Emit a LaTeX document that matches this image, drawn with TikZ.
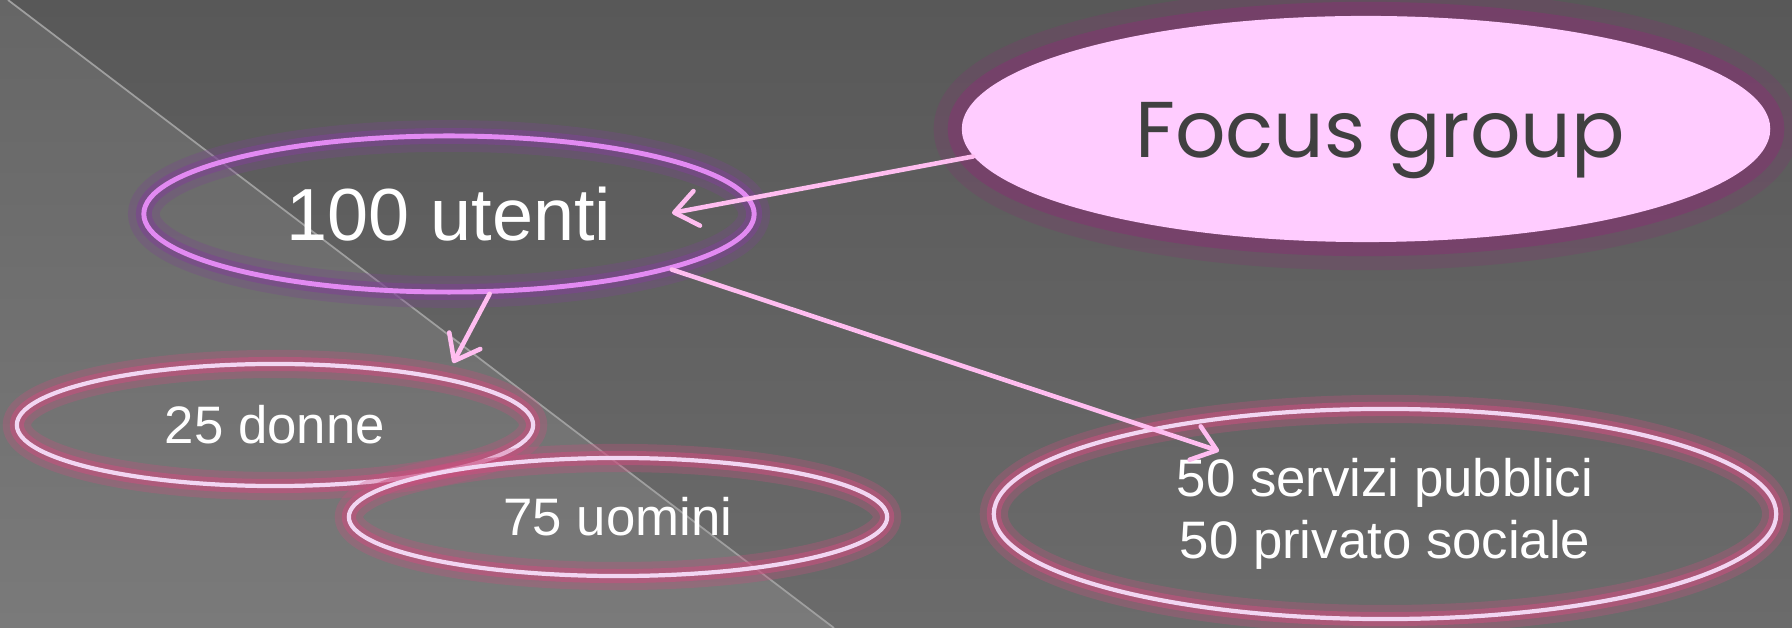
\documentclass[tikz,border=0pt]{standalone}
\usepackage{fontspec}
\setmainfont{Liberation Sans}
\newfontfamily\gothic{Poppins}
\usetikzlibrary{arrows.meta,shapes.geometric}

\definecolor{bgtop}{HTML}{585858}
\definecolor{bgbot}{HTML}{6B6B6B}
\definecolor{lighttop}{HTML}{666666}
\definecolor{lightbot}{HTML}{7A7A7A}
\definecolor{focusfill}{HTML}{FFCCFF}
\definecolor{focusglow}{HTML}{7E3A6E}
\definecolor{focustext}{HTML}{404040}
\definecolor{violetring}{HTML}{E28AF2}
\definecolor{violetglow}{HTML}{7C4590}
\definecolor{pinkring}{HTML}{F2D6F2}
\definecolor{pinkglow}{HTML}{C9507F}
\definecolor{arrowpink}{HTML}{FFBDF0}

\tikzset{
  topic/.style={ellipse, fill=focusfill, text=focustext,
    font=\gothic\fontsize{22.5}{27}\selectfont,
    text height=16pt, text depth=0pt,
    preaction={draw=focusglow, line width=16pt, opacity=.3},
    preaction={draw=focusglow, line width=8pt, opacity=.65}},
  mainring/.style={ellipse, draw=violetring, line width=1.4pt, text=white,
    font=\fontsize{21}{25}\selectfont,
    preaction={draw=violetglow, line width=9pt, opacity=.3},
    preaction={draw=violetglow, line width=4.5pt, opacity=.6}},
  subring/.style={ellipse, draw=pinkring, line width=1.2pt, text=white,
    font=\fontsize{15}{17.5}\selectfont, align=center,
    preaction={draw=pinkglow, line width=8pt, opacity=.3},
    preaction={draw=pinkglow, line width=4pt, opacity=.55}},
  link/.style={draw=arrowpink, line width=1.3pt, line cap=round,
    -{Straight Barb[length=6.5pt,width=10pt,round]}}
}

\begin{document}
\begin{tikzpicture}[x=0.01cm, y=0.01cm]
\useasboundingbox (0,0) rectangle (1792,-628);
% background
\shade[top color=bgtop, bottom color=bgbot] (0,0) rectangle (1792,-628);
\shade[top color=lighttop, bottom color=lightbot] (0,0) -- (8,0) -- (834,-628) -- (0,-628) -- cycle;
\draw[line width=0.5pt, color=gray!75] (8,0) -- (834,-628);

% ellipses
\node[topic, minimum width=8.08cm, minimum height=2.26cm] (focus) at (1366,-129) {\hspace{8pt}Focus group};
\node[mainring, minimum width=6.10cm, minimum height=1.56cm] (utenti) at (449,-214) {100 utenti};
\node[subring, minimum width=5.16cm, minimum height=1.22cm] (donne) at (275,-425) {25 donne};
\node[subring, minimum width=5.38cm, minimum height=1.18cm] (uomini) at (618,-517) {75 uomini};
\node[subring, minimum width=7.82cm, minimum height=2.10cm] (servizi) at (1385,-514) {50 servizi pubblici\\50 privato sociale};

% arrow tips
\coordinate (tip-utenti) at (672,-213);
\coordinate (tip-donne) at (453,-363);
\coordinate (tip-servizi) at (1219,-451);

% arrows
\draw[link] (focus.184) -- (tip-utenti);
\draw[link] (utenti.-63) -- (tip-donne);
\draw[link] (utenti.-14) -- (tip-servizi);
\end{tikzpicture}
\end{document}
